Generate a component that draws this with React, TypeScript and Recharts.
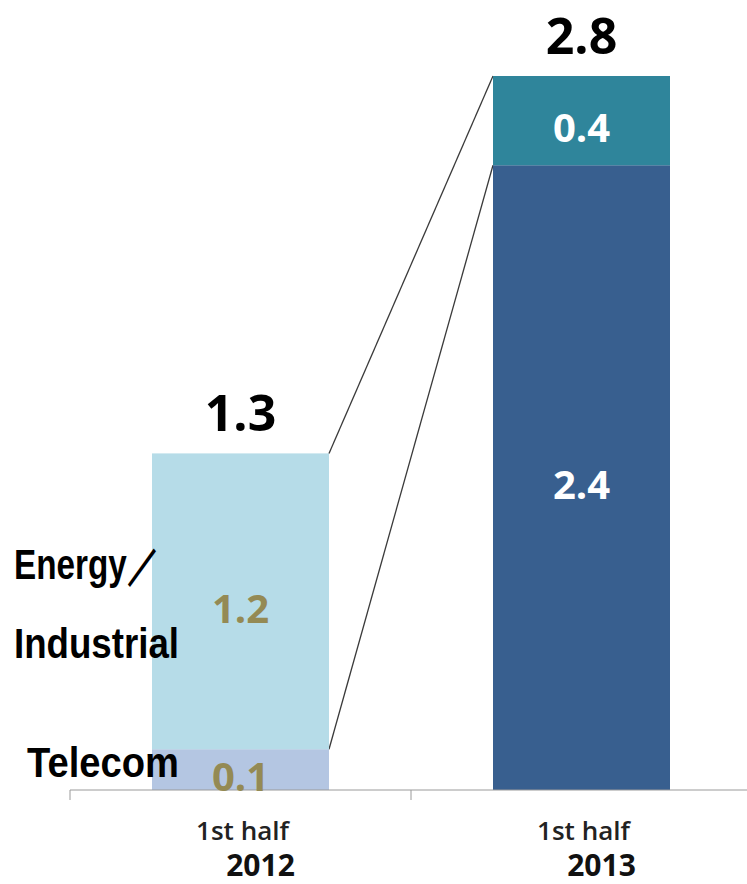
import { BarChart, Bar, XAxis, YAxis, Cell, LabelList } from "recharts";

const categories = ["2012", "2013"];
const periodLabel = "1st half";
// lower stack segment (Telecom in 2012) and upper stack segment (Energy/Industrial in 2012)
const lowerValues = [0.16, 2.45];
const upperValues = [1.16, 0.35];
const lowerPrinted = ["0.1", "2.4"];
const upperPrinted = ["1.2", "0.4"];
const lowerNames = ["Telecom", ""];
const upperNames = [["Energy／", "Industrial"], []];

const lowerColors = ["#b4c6e2", "#385f8f"];
const upperColors = ["#b6dce8", "#2f859b"];
const labelColors = ["#948a54", "#ffffff"];

const data = categories.map((year, i) => ({
  year,
  lower: lowerValues[i],
  upper: upperValues[i],
}));

const CHART_W = 752;
const CHART_H = 884;
const LEFT = 70;
const CAT_GAP = 82;
const HALF_BAND = (CHART_W - LEFT) / 4;

const numFont = "'Open Sans', 'DejaVu Sans', sans-serif";
const nameFont = "'Liberation Sans', 'DejaVu Sans', sans-serif";

const LowerShape = (props: any) => {
  const { x, y, width, height, index, fill } = props;
  let connector = null;
  if (index === 0) {
    const ppu = height / lowerValues[0];
    const base = y + height;
    const yTarget = base - lowerValues[1] * ppu;
    connector = (
      <line x1={x + width} y1={y} x2={x + width + 2 * CAT_GAP} y2={yTarget} stroke="#3a3a3a" strokeWidth={1.3} />
    );
  }
  return (
    <g>
      <rect x={x} y={y} width={width} height={height} fill={fill} />
      {connector}
    </g>
  );
};

const UpperShape = (props: any) => {
  const { x, y, width, height, index, fill } = props;
  let connector = null;
  if (index === 0) {
    const ppu = height / upperValues[0];
    const base = y + height + lowerValues[0] * ppu;
    const yTarget = base - (lowerValues[1] + upperValues[1]) * ppu;
    connector = (
      <line x1={x + width} y1={y} x2={x + width + 2 * CAT_GAP} y2={yTarget} stroke="#3a3a3a" strokeWidth={1.3} />
    );
  }
  return (
    <g>
      <rect x={x} y={y} width={width} height={height} fill={fill} />
      {connector}
    </g>
  );
};

const segLabel = (printed: string[]) => (props: any) => {
  const { x, y, width, height, index } = props;
  return (
    <text
      x={x + width / 2}
      y={y + height / 2 + 6}
      textAnchor="middle"
      dominantBaseline="central"
      fill={labelColors[index]}
      fontFamily={numFont}
      fontWeight={700}
      fontSize={40}
    >
      {printed[index]}
    </text>
  );
};

const totalLabel = (props: any) => {
  const { x, y, width, index } = props;
  const total = lowerValues[index] + upperValues[index];
  return (
    <text x={x + width / 2} y={y - 22} textAnchor="middle" fill="#000" fontFamily={numFont} fontWeight={700} fontSize={50}>
      {total.toFixed(1)}
    </text>
  );
};

const lowerName = (props: any) => {
  const { x, y, height, index } = props;
  if (!lowerNames[index]) return null;
  return (
    <text
      x={x - 125}
      y={y + height - 13}
      textLength={152}
      lengthAdjust="spacingAndGlyphs"
      fill="#000"
      fontFamily={nameFont}
      fontWeight={700}
      fontSize={42}
    >
      {lowerNames[index]}
    </text>
  );
};

const upperName = (props: any) => {
  const { x, y, height, index } = props;
  const lines = upperNames[index];
  if (!lines.length) return null;
  const mid = y + height / 2;
  return (
    <g>
      <text
        x={x - 138}
        y={mid - 22}
        textLength={146}
        lengthAdjust="spacingAndGlyphs"
        fill="#000"
        fontFamily={nameFont}
        fontWeight={700}
        fontSize={42}
      >
        {lines[0]}
      </text>
      <text
        x={x - 138}
        y={mid + 57}
        textLength={165}
        lengthAdjust="spacingAndGlyphs"
        fill="#000"
        fontFamily={nameFont}
        fontWeight={700}
        fontSize={42}
      >
        {lines[1]}
      </text>
    </g>
  );
};

const YearTick = (props: any) => {
  const { x, y, payload } = props;
  return (
    <g>
      <line x1={x - HALF_BAND} y1={y} x2={x - HALF_BAND} y2={y + 10} stroke="#9a9a9a" />
      <text x={x + 2} y={y + 50} textAnchor="middle" fill="#222" fontFamily={numFont} fontWeight={600} fontSize={26}>
        {periodLabel}
      </text>
      <text x={x + 20} y={y + 86} textAnchor="middle" fill="#111" fontFamily={numFont} fontWeight={700} fontSize={30}>
        {payload.value}
      </text>
    </g>
  );
};

export default function App() {
  return (
    <div style={{ position: "absolute", top: 0, left: 0, width: 747, height: CHART_H, overflow: "hidden", background: "#fff" }}>
      <BarChart
        width={CHART_W}
        height={CHART_H}
        data={data}
        margin={{ top: 25, right: 0, left: LEFT, bottom: 0 }}
        barCategoryGap={CAT_GAP}
      >
        <XAxis
          dataKey="year"
          height={94}
          axisLine={{ stroke: "#9a9a9a" }}
          tickLine={false}
          tickSize={0}
          tickMargin={0}
          tick={<YearTick />}
          interval={0}
        />
        <YAxis hide domain={[0, 3]} width={0} />
        <Bar dataKey="lower" stackId="a" shape={<LowerShape />} isAnimationActive={false}>
          {data.map((_, i) => (
            <Cell key={`l-${i}`} fill={lowerColors[i]} />
          ))}
          <LabelList dataKey="lower" content={segLabel(lowerPrinted)} />
          <LabelList dataKey="lower" content={lowerName} />
        </Bar>
        <Bar dataKey="upper" stackId="a" shape={<UpperShape />} isAnimationActive={false}>
          {data.map((_, i) => (
            <Cell key={`u-${i}`} fill={upperColors[i]} />
          ))}
          <LabelList dataKey="upper" content={segLabel(upperPrinted)} />
          <LabelList dataKey="upper" content={upperName} />
          <LabelList dataKey="upper" content={totalLabel} />
        </Bar>
      </BarChart>
    </div>
  );
}
